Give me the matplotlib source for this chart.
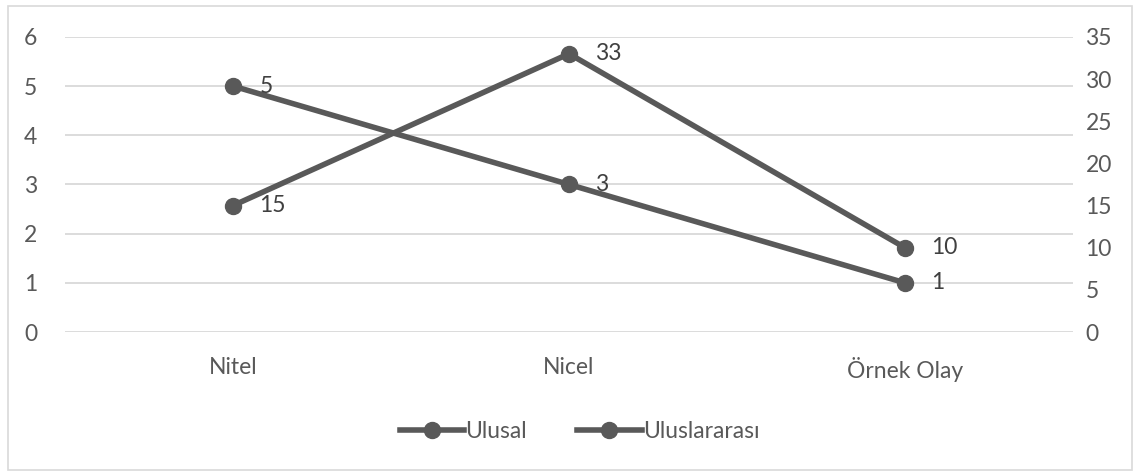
import matplotlib
matplotlib.use('Agg')
import matplotlib.pyplot as plt
from matplotlib.patches import Rectangle

plt.rcParams['font.family'] = ['Lato', 'DejaVu Sans']

categories = ['Nitel', 'Nicel', 'Örnek Olay']
ulusal = [5, 3, 1]
uluslararasi = [15, 33, 10]

LINE = '#595959'
GRID = '#d9d9d9'
TXT = '#595959'
FS = 16.5

fig = plt.figure(figsize=(11.41, 4.73), dpi=100)
fig.patches.append(Rectangle((0.007, 0.006), 0.985, 0.982, transform=fig.transFigure,
                             fill=False, edgecolor=GRID, linewidth=1.2))

ax = fig.add_axes([0.057, 0.298, 0.8834, 0.624])
ax2 = ax.twinx()
x = list(range(len(categories)))

ax.plot(x, ulusal, color=LINE, lw=4, marker='o', ms=11.5, label='Ulusal', zorder=3)
ax2.plot(x, uluslararasi, color=LINE, lw=4, marker='o', ms=11.5, label='Uluslararası', zorder=3)

for xi, v in zip(x, ulusal):
    ax.annotate(str(v), (xi, v), xytext=(19, 0), textcoords='offset points',
                ha='left', va='center', fontsize=FS, color='#404040')
for xi, v in zip(x, uluslararasi):
    ax2.annotate(str(v), (xi, v), xytext=(19, 0), textcoords='offset points',
                 ha='left', va='center', fontsize=FS, color='#404040')

ax.set_xlim(-0.5, 2.5)
ax.set_ylim(0, 6)
ax2.set_ylim(0, 35)
ax.set_yticks(range(0, 7))
ax2.set_yticks(range(0, 36, 5))
ax.set_xticks(x)
ax.set_xticklabels(categories)

ax.grid(axis='y', color=GRID, linewidth=1.3)
ax.set_axisbelow(True)
for a in (ax, ax2):
    for s in a.spines.values():
        s.set_visible(False)
    a.tick_params(length=0, labelsize=FS, labelcolor=TXT)
ax.tick_params(axis='y', pad=20)
ax2.tick_params(axis='y', pad=9)
ax.tick_params(axis='x', pad=18)

h1, l1 = ax.get_legend_handles_labels()
h2, l2 = ax2.get_legend_handles_labels()
fig.legend(h1 + h2, l1 + l2, loc='center', bbox_to_anchor=(0.508, 0.088), ncol=2,
           frameon=False, fontsize=FS, labelcolor=TXT, handlelength=2.8,
           handletextpad=0.05, columnspacing=2.2)

fig.savefig('out.png', dpi=100)
